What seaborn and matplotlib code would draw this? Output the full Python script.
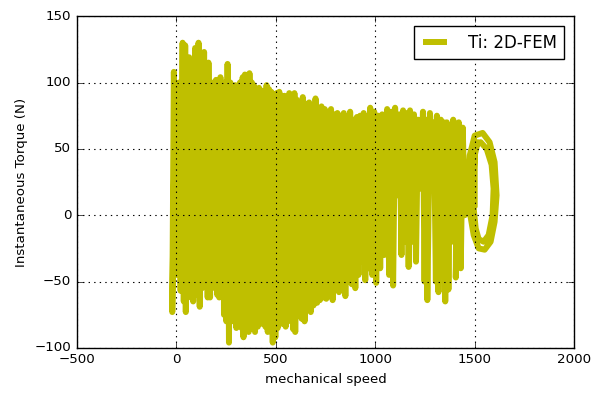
import matplotlib
matplotlib.use("Agg")
import matplotlib.pyplot as plt
import seaborn as sns
import pandas as pd

# Oscillation of the torque-speed trace: successive peaks and troughs
peak_speed = [
    -12, -5, 15, 32, 45, 55, 65, 80, 95, 112, 125, 140, 152, 162, 178, 190, 200,
    212, 222, 236, 245, 258, 272, 285, 296,
    308, 320, 334, 345, 360, 368, 380, 390, 404, 416, 428, 440, 454, 466, 478,
    492, 504, 518, 530, 544, 556, 568, 582, 594,
    606, 622, 636, 652, 668, 684, 700, 716, 730, 746, 762, 778, 794, 810, 826,
    842, 858, 874, 890, 908, 924, 942, 958, 975, 995,
    1015, 1035, 1060, 1080, 1100, 1122, 1140, 1160, 1175, 1195, 1215, 1240,
    1255, 1275, 1295, 1310, 1330, 1345, 1360, 1378, 1392, 1410, 1420, 1440,
]
peak_torque = [
    108, 100, 100, 130, 128, 112, 119, 110, 126, 130, 118, 123, 110, 115, 100,
    100, 102, 98, 104, 96, 100, 114, 100, 95, 98,
    96, 100, 104, 106, 100, 107, 100, 98, 92, 96, 94, 92, 98, 95, 93,
    90, 92, 93, 90, 90, 88, 92, 90, 92,
    87, 85, 89, 84, 85, 82, 88, 80, 82, 80, 78, 80, 76, 77, 75,
    77, 72, 78, 72, 74, 75, 77, 74, 81, 78,
    75, 76, 80, 78, 81, 76, 79, 77, 79, 76, 72, 78,
    72, 77, 70, 75, 72, 70, 70, 68, 72, 68, 70, 66,
]
trough_speed = [
    -20, 2, 22, 38, 48, 60, 72, 85, 100, 118, 130, 146, 158, 170, 185, 195, 206,
    216, 230, 240, 252, 265, 278, 292, 302,
    314, 328, 338, 352, 364, 375, 386, 396, 410, 422, 435, 448, 460, 472, 485,
    498, 510, 524, 536, 550, 562, 575, 588, 598,
    614, 630, 645, 660, 676, 690, 708, 722, 738, 754, 770, 786, 802, 818, 834,
    850, 866, 882, 900, 916, 935, 950, 966, 985, 1005,
    1025, 1045, 1070, 1090, 1112, 1132, 1150, 1168, 1185, 1205, 1225, 1248,
    1262, 1285, 1305, 1318, 1338, 1352, 1368, 1385, 1400, 1405, 1430, 1450,
]
trough_torque = [
    -73, -45, -57, -65, -73, -62, -57, -65, -60, -69, -55, -50, -62, -62, -50,
    -55, -60, -62, -50, -75, -80, -96, -80, -70, -85,
    -74, -85, -92, -80, -88, -76, -85, -88, -84, -80, -82, -84, -88, -80, -96,
    -92, -85, -78, -82, -84, -80, -78, -86, -88,
    -74, -78, -80, -70, -73, -68, -66, -64, -62, -63, -58, -64, -55, -58, -56,
    -61, -50, -52, -55, -45, -35, -49, -40, -45, -51,
    -40, -30, -45, -53, 15, -30, -20, -39, -20, -35, 20, -50,
    -64, 25, -50, -58, -45, -65, -56, -20, -10, -47, -40, 0,
]

# Final settling loops near synchronous speed
loop_speed = [
    1465, 1475, 1500, 1540, 1575, 1600, 1610, 1600, 1580, 1550, 1520, 1495,
    1478, 1472, 1478, 1495, 1530, 1560, 1585, 1595, 1590, 1570, 1545, 1520,
    1505, 1495, 1493, 1500, 1515, 1500, 1500,
]
loop_torque = [
    20, 45, 60, 62, 55, 40, 15, -5, -20, -26, -25, -15,
    0, 20, 40, 52, 55, 50, 38, 20, 0, -15, -20, -18,
    -10, 5, 25, 45, 55, 49, 8,
]

speed = [0]
torque = [0]
for ps, pt, ts, tt in zip(peak_speed, peak_torque, trough_speed, trough_torque):
    speed += [ps, ts]
    torque += [pt, tt]
speed += loop_speed
torque += loop_torque

df = pd.DataFrame({"speed": speed, "torque": torque})

plt.style.use("classic")
fig, ax = plt.subplots(figsize=(5.95, 3.94), dpi=100)
fig.subplots_adjust(left=0.129, right=0.965, top=0.959, bottom=0.117)

sns.lineplot(data=df, x="speed", y="torque", sort=False, estimator=None,
             color=(0.75, 0.75, 0.0), linewidth=4.3, label="Ti: 2D-FEM", ax=ax)

ax.set_xlim(-500, 2000)
ax.set_ylim(-100, 150)
ax.set_xticks([-500, 0, 500, 1000, 1500, 2000])
ax.set_yticks([-100, -50, 0, 50, 100, 150])
ax.grid(True, color="black", linestyle=":", linewidth=0.8)
ax.tick_params(labelsize=9.6, direction="in", top=True, right=True)
ax.set_xlabel("mechanical speed", fontsize=9.6)
ax.set_ylabel("Instantaneous Torque (N)", fontsize=9.6)
leg = ax.legend(loc="upper right", fontsize=12, fancybox=False, handlelength=1.7,
                handletextpad=1.1, borderpad=0.45, borderaxespad=0.6)
leg.get_frame().set_edgecolor("black")

fig.savefig("out.png", dpi=100)
